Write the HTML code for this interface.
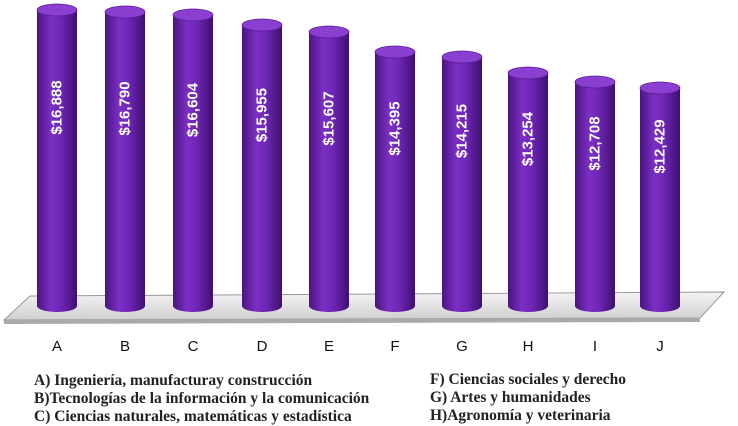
<!DOCTYPE html>
<html><head><meta charset="utf-8"><style>
body{margin:0;background:#fff;width:738px;height:419px;overflow:hidden;position:relative}
svg{position:absolute;left:0;top:0}
.lg{position:absolute;font-family:"Liberation Serif",serif;font-size:15.5px;font-weight:bold;color:#222;white-space:nowrap;line-height:18px}
</style></head><body>
<svg width="738" height="419" viewBox="0 0 738 419">
<defs>
<linearGradient id="g" x1="0" x2="1">
<stop offset="0" stop-color="#4a1480"/><stop offset="0.35" stop-color="#7b2fc4"/><stop offset="0.6" stop-color="#6e26b5"/><stop offset="1" stop-color="#3e0f70"/>
</linearGradient>
<linearGradient id="f" x1="0" y1="0" x2="0" y2="1">
<stop offset="0" stop-color="#f4f4f4"/><stop offset="1" stop-color="#cfcfcf"/>
</linearGradient>
</defs>
<polygon points="30,296 724,292 700,318 4,320" fill="url(#f)" stroke="#999" stroke-width="1"/>
<polygon points="4,320 700,318 700,322 4,324" fill="#aaa"/>
<g id="bars"></g>
<g font-family="Liberation Sans,sans-serif" font-size="15" fill="#111" text-anchor="middle">
<text x="57" y="351">A</text><text x="125" y="351">B</text><text x="193" y="351">C</text><text x="262" y="351">D</text><text x="329" y="351">E</text><text x="395" y="351">F</text><text x="462" y="351">G</text><text x="528" y="351">H</text><text x="595" y="351">I</text><text x="660" y="351">J</text>
</g>
</svg>
<div class="lg" style="left:34px;top:372px">A) Ingeniería, manufacturay construcción<br>B)Tecnologías de la información y la comunicación<br>C) Ciencias naturales, matemáticas y estadística</div>
<div class="lg" style="left:430px;top:371px">F) Ciencias sociales y derecho<br>G) Artes y humanidades<br>H)Agronomía y veterinaria</div>
<script>
var d=[[57,10,"$16,888"],[125,12,"$16,790"],[193,15,"$16,604"],[262,25,"$15,955"],[329,32,"$15,607"],[395,52,"$14,395"],[462,57,"$14,215"],[528,73,"$13,254"],[595,82,"$12,708"],[660,88,"$12,429"]];
var s="";
d.forEach(function(b){var x=b[0],t=b[1],w=20,bot=306;
s+='<path d="M'+(x-w)+','+t+' L'+(x-w)+','+bot+' A'+w+',6 0 0 0 '+(x+w)+','+bot+' L'+(x+w)+','+t+' Z" fill="url(#g)"/>';
s+='<ellipse cx="'+x+'" cy="'+t+'" rx="'+w+'" ry="6" fill="#8a3fd0" stroke="#5a1a98" stroke-width="0.8"/>';
var cy=(t+205)/2;
s+='<text x="'+x+'" y="'+cy+'" transform="rotate(-90 '+x+' '+cy+')" text-anchor="middle" dominant-baseline="central" font-family="Liberation Sans,sans-serif" font-size="15" font-weight="bold" fill="#fff">'+b[2]+'</text>';});
document.getElementById("bars").innerHTML=s;
</script>
</body></html>
